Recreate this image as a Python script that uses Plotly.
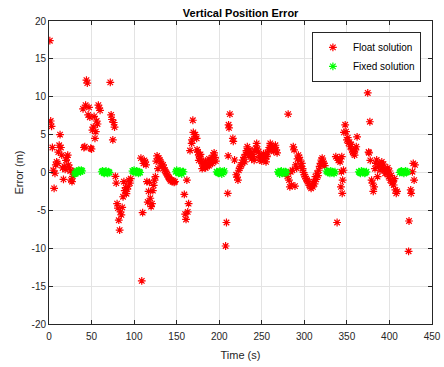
import plotly.graph_objects as go

# ---------------- Float solution ----------------
float_t = [
    1, 2, 3, 4, 5, 6, 7, 8, 9, 10, 11, 12, 13, 14, 15, 16, 17, 18, 19, 20, 21, 22, 23, 24, 25, 26, 27, 28, 29,
    40, 41, 42, 43, 44, 45, 46, 47, 48, 49, 50, 51, 52, 53, 54, 55, 56, 57, 58, 59, 60,
    72, 73, 74, 75, 76, 77, 78, 79, 80, 81, 82, 83, 84, 85, 86, 87, 88, 89, 90, 91, 92, 93, 94, 95, 96,
    108, 109, 110, 111, 112, 113, 114, 115, 116, 117, 118, 119, 120, 121, 122, 123, 124, 125, 126, 127,
    128, 129, 130, 131, 132, 133, 134, 135, 136, 137, 138, 139, 140, 141, 142, 143, 144, 145, 146, 147, 148,
    159, 160, 161, 162, 163, 164, 165.7, 167.6, 169, 169.6, 171.5, 173.5, 172, 168,
    174, 175, 176, 177, 178, 179, 180, 181, 182, 183, 184, 185, 186, 187, 188, 189, 190, 191, 192, 193, 194, 195, 196,
    176, 178, 180, 184, 188, 192,
    207.5, 208.5, 210, 210.5, 211, 211.5, 212.5, 216, 216.5, 218, 220, 221, 222,
    223, 224, 225, 226, 227, 228, 229, 230, 231, 232, 233, 234, 235, 236, 237, 238, 239, 240, 241, 242, 243, 244,
    245, 246, 247, 248, 249, 250, 251, 252, 253, 254, 255, 256, 257, 258, 259, 260, 261, 262, 263, 264, 265, 266, 267, 268,
    280, 281, 282, 283, 284, 285, 286, 287, 288, 289, 290, 291, 292, 293, 294, 295, 296, 297, 298, 299, 300,
    301, 302, 303, 304, 305, 306, 307, 308, 309, 310, 311, 312, 313, 314, 315, 316, 317, 318, 319, 320, 321, 322, 323, 324,
    337, 338.5, 339, 340, 341, 342, 343, 343.5, 344, 344.5, 345, 346, 346.5, 348, 349, 350, 351, 352, 353, 354, 355,
    356, 357, 358, 359, 360, 361, 362,
    374.5, 375.5, 376, 377, 377.5, 379, 380, 381, 382, 383, 384, 385, 386, 387, 388, 389, 390, 391, 392, 393, 394,
    395, 396, 397, 398, 399, 400, 401, 402, 403, 404, 405, 406, 407, 408, 409,
    422.5, 423, 425, 425.5, 427, 428, 429, 430,
]
float_err = [
    17.4, 6.8, 6.1, 3.3, 0.3, -2.1, -0.1, 1.0, 1.4, 1.2, 2.7, 3.6, 5.0, 3.3, 2.3, 0.6, -0.9, 0.8, 0.4, 1.6, 2.0, 2.3, 1.0, 0.6, 0.2, -1.0, -1.2, -0.5, 0.1,
    8.4, 3.3, 3.4, 8.9, 12.2, 11.8, 7.6, 8.6, 7.3, 3.2, 3.1, 5.6, 6.0, 7.4, 4.5, 5.4, 6.8, 6.4, 8.9, 8.5, 8.2,
    11.9, 7.6, 7.0, 4.3, 6.6, 6.0, -0.5, -1.4, -4.1, -4.7, -6.3, -7.6, -5.2, -5.6, -4.6, -3.2, -1.2, -2.4, -2.0, -2.8, -2.2, -1.8, -1.0, -1.4, -0.8,
    1.9, -14.3, -5.3, 1.2, 1.6, 1.4, 1.0, -1.2, -3.9, -2.5, -1.3, -3.4, -4.5, -4.1, -2.4, -1.7, -1.0, -0.55, 1.5, 2.2,
    0.5, 1.9, 1.65, 1.4, 1.2, 0.8, 1.0, 0.6, 0.3, 0.1, -0.1, -0.3, -0.55, -0.7, -0.9, -1.1, -1.0, -1.2, -1.1, -1.3, -1.2,
    -2.9, -5.5, -6.2, -1.0, -5.2, -4.1, 2.9, 3.85, 6.9, 5.3, 4.7, 4.5, 5.0, 4.3,
    3.0, 2.7, 2.3, 2.1, 1.9, 1.5, 1.2, 1.0, 1.3, 0.8, 0.6, 1.0, 0.8, 1.2, 0.9, 1.4, 1.2, 1.6, 1.9, 2.3, 2.6, 2.0, 1.5,
    1.6, 2.4, 0.5, 1.5, 1.8, 1.2,
    -9.7, -6.6, -2.75, 2.2, 6.3, 5.9, 7.7, 4.5, 4.1, 1.65, -0.3, -0.6, -1.0,
    0.3, 0.55, 0.8, 1.0, 1.3, 1.65, 2.0, 1.4, 2.4, 2.9, 3.4, 2.6, 2.2, 3.0, 2.5, 1.8, 2.4, 2.1, 1.6, 2.8, 3.2, 3.85,
    3.1, 2.7, 2.0, 1.65, 2.2, 1.5, 2.0, 2.5, 1.8, 2.3, 1.4, 2.1, 2.6, 3.0, 3.3, 3.85, 3.5, 3.0, 3.4, 2.8, 3.2, 3.6, 3.0, 2.6,
    -0.5, 7.7, -1.0, -1.9, 0.1, -1.65, 0.3, 3.4, 3.0, -1.8, 1.0, 0.55, 1.8, 2.3, 2.0, 1.65, 0.8, 1.2, 0.5, 0.0, -0.3,
    -0.55, -0.8, -1.0, -1.2, -1.4, -1.7, -1.9, -2.1, -1.65, -1.9, -1.2, -1.5, -0.55, -0.9, -0.1, -0.4, 0.3, 0.8, 1.2, 1.65, 1.9, 1.4, 1.2, 0.9,
    2.1, -6.6, 1.9, 1.6, 1.65, 1.4, -1.9, 0.1, 2.1, -2.75, -1.0, 0.3, 5.3, 6.3, 5.4, 4.3, 4.6, 3.85, 4.0, 3.4, 3.7,
    3.0, 2.7, 2.5, 2.3, 3.0, 3.4, 4.7,
    10.5, 2.7, 2.6, 6.7, 1.6, -1.0, -1.4, -2.5, -1.9, 0.5, 1.2, 1.65, -0.55, 0.8, 1.2, 0.3, 1.0, 1.4, 0.6, 1.1, 0.3,
    -0.1, 0.4, -0.1, 0.6, -0.55, 0.2, -1.0, -0.4, -1.4, -1.2, -1.65, -0.8, -2.3, -2.75, -2.5,
    -10.4, -6.4, -2.3, -2.75, 0.1, 1.2, -1.0, 1.0,
]

# ---------------- Fixed solution ----------------
fixed_t = [
    30, 31, 32, 33, 34, 35, 36, 37, 38, 39,
    62, 63, 64, 65, 66, 67, 68, 69, 70, 71,
    98, 99, 100, 101, 102, 103, 104, 105, 106, 107,
    149, 150, 151, 152, 153, 154, 155, 156, 157, 158,
    197, 198, 199, 200, 201, 202, 203, 204, 205, 206,
    269, 270, 271, 272, 273, 274, 275, 276, 277, 278, 279,
    326, 327, 328, 329, 330, 331, 332, 333, 334, 335, 336,
    364, 365, 366, 367, 368, 369, 370, 371, 372, 373,
    412, 413, 414, 415, 416, 417, 418, 419, 420, 421,
]
fixed_err = [
    -0.2, -0.1, 0.1, 0.2, 0.0, 0.3, 0.2, 0.1, 0.3, 0.2,
    0.1, 0.2, 0.0, -0.1, 0.1, 0.2, 0.0, -0.1, 0.1, 0.0,
    0.2, 0.1, 0.3, 0.1, 0.0, 0.2, 0.1, -0.1, 0.1, 0.0,
    0.1, 0.3, 0.1, -0.1, 0.0, 0.2, 0.0, -0.2, 0.1, 0.1,
    0.1, 0.0, -0.1, 0.1, 0.2, 0.0, -0.2, 0.1, 0.0, 0.2,
    0.1, 0.0, -0.2, 0.1, 0.2, -0.1, 0.0, 0.1, -0.1, 0.1, 0.0,
    0.2, 0.1, 0.0, 0.1, -0.1, 0.2, 0.0, 0.1, 0.0, -0.1, 0.1,
    0.1, 0.0, -0.1, 0.2, 0.1, 0.0, 0.1, -0.1, 0.0, 0.1,
    0.0, 0.1, 0.2, 0.1, 0.0, -0.1, 0.1, 0.2, 0.0, 0.1,
]

x_ticks = [0, 50, 100, 150, 200, 250, 300, 350, 400, 450]
y_ticks = [-20, -15, -10, -5, 0, 5, 10, 15, 20]

FONT = "Arial, Liberation Sans, Helvetica, sans-serif"
AX = "#262626"

fig = go.Figure()
fig.add_trace(go.Scatter(
    x=float_t, y=float_err, mode="markers", name="Float solution",
    marker=dict(symbol="asterisk-open", size=6.5, color="#ff0000",
                line=dict(width=1.2, color="#ff0000")),
))
fig.add_trace(go.Scatter(
    x=fixed_t, y=fixed_err, mode="markers", name="Fixed solution",
    marker=dict(symbol="asterisk-open", size=6.5, color="#00ff00",
                line=dict(width=1.2, color="#00ff00")),
))

axis_common = dict(
    showline=True, linecolor=AX, linewidth=1, mirror="ticks",
    ticks="inside", ticklen=4, tickcolor=AX, tickwidth=1,
    showgrid=True, gridcolor="#e3e3e3", gridwidth=1,
    zeroline=False, tickfont=dict(family=FONT, size=10, color=AX),
    automargin=False,
)

fig.update_layout(
    width=444, height=367,
    margin=dict(l=49, r=12, t=21, b=43, autoexpand=False),
    paper_bgcolor="white", plot_bgcolor="white",
    title=dict(text="<b>Vertical Position Error</b>", x=0.542, xanchor="center",
               y=0.965, yanchor="middle",
               font=dict(family=FONT, size=11, color="#000000")),
    xaxis=dict(range=[0, 450], tickvals=x_ticks, ticktext=[str(v) for v in x_ticks],
               ticklabelstandoff=3,
               title=dict(text="Time (s)", font=dict(family=FONT, size=11, color=AX), standoff=10),
               **axis_common),
    yaxis=dict(range=[-20, 20], tickvals=y_ticks, ticktext=[str(v) for v in y_ticks],
               title=dict(text="Error (m)", font=dict(family=FONT, size=11, color=AX), standoff=5),
               **axis_common),
    legend=dict(x=0.971, y=0.964, xanchor="right", yanchor="top",
                bgcolor="white", bordercolor=AX, borderwidth=1,
                font=dict(family=FONT, size=10, color="#000000"),
                itemwidth=30, tracegroupgap=0),
    showlegend=True,
)

fig.write_html("out.html", config={"displayModeBar": False},
               post_script="document.body.style.margin='0';")
